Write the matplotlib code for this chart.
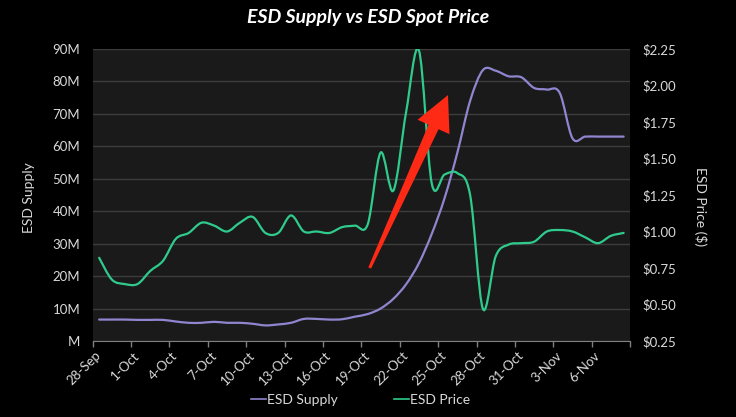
import numpy as np
import matplotlib
matplotlib.use("Agg")
import matplotlib.pyplot as plt
from matplotlib.path import Path
from matplotlib.patches import PathPatch, Polygon
from matplotlib.lines import Line2D
from matplotlib.ticker import FuncFormatter

plt.rcParams['font.family'] = ['Lato', 'DejaVu Sans']

# daily values, 28-Sep .. 8-Nov
days = np.arange(42)
tick_labels = ['28-Sep', '1-Oct', '4-Oct', '7-Oct', '10-Oct', '13-Oct', '16-Oct',
               '19-Oct', '22-Oct', '25-Oct', '28-Oct', '31-Oct', '3-Nov', '6-Nov']

supply_m = [6.6, 6.6, 6.6, 6.5, 6.5, 6.5, 6.0, 5.6, 5.6, 5.9, 5.6, 5.6, 5.3, 4.8,
            5.1, 5.6, 6.8, 6.8, 6.6, 6.7, 7.5, 8.3, 10.0, 13.0, 17.5, 24.0, 33.0,
            44.0, 58.0, 74.0, 83.5, 83.3, 81.6, 81.3, 78.0, 77.5, 76.5, 62.5, 63.0,
            63.0, 63.0, 63.0]

price = [0.82, 0.67, 0.64, 0.64, 0.73, 0.80, 0.95, 0.99, 1.06, 1.04, 1.00, 1.06,
         1.10, 0.99, 0.99, 1.11, 1.00, 1.00, 0.99, 1.03, 1.04, 1.05, 1.54, 1.28,
         1.82, 2.24, 1.33, 1.39, 1.40, 1.25, 0.47, 0.83, 0.91, 0.92, 0.93, 1.00,
         1.01, 1.00, 0.96, 0.92, 0.97, 0.99]

c_supply = '#8f86cf'
c_price = '#2fcb8c'
c_text = '#d9d9d9'


def smooth_path(x, y):
    # excel-like smoothed line (catmull-rom as cubic bezier)
    pts = np.column_stack([x, y]).astype(float)
    verts = [pts[0]]
    codes = [Path.MOVETO]
    n = len(pts)
    for i in range(n - 1):
        p0 = pts[i - 1] if i > 0 else pts[i]
        p1 = pts[i]
        p2 = pts[i + 1]
        p3 = pts[i + 2] if i + 2 < n else pts[i + 1]
        verts += [p1 + (p2 - p0) / 6, p2 - (p3 - p1) / 6, p2]
        codes += [Path.CURVE4] * 3
    return Path(verts, codes)


fig = plt.figure(figsize=(7.36, 4.17), dpi=100, facecolor='black')
ax = fig.add_axes([0.126, 0.1823, 0.730, 0.7002])
ax.set_facecolor('#1a1a1a')
ax2 = ax.twinx()

ax.set_xlim(-0.5, 41.5)
ax.set_ylim(0, 90)
ax2.set_ylim(0.25, 2.25)

ax.add_patch(PathPatch(smooth_path(days, supply_m), facecolor='none',
                       edgecolor=c_supply, lw=1.6, capstyle='round'))
ax2.add_patch(PathPatch(smooth_path(days, price), facecolor='none',
                        edgecolor=c_price, lw=1.6, capstyle='round'))

# axes styling
ax.set_yticks(np.arange(0, 91, 10))
ax.yaxis.set_major_formatter(FuncFormatter(lambda v, p: 'M' if v == 0 else f'{v:.0f}M'))
ax2.set_yticks(np.arange(0.25, 2.26, 0.25))
ax2.yaxis.set_major_formatter(FuncFormatter(lambda v, p: f'${v:.2f}'))
ax.grid(axis='y', color='#3d3d3d', lw=1)
ax.set_axisbelow(True)

ax.set_xticks(np.arange(-0.5, 42, 3))
ax.set_xticklabels([])
ax.set_xticks(days[::3], minor=True)
ax.set_xticklabels(tick_labels, minor=True, rotation=45, ha='right',
                   va='center', rotation_mode='anchor')
ax.tick_params(axis='x', which='major', length=4, color='#7f7f7f', width=1)
ax.tick_params(axis='x', which='minor', length=0, pad=9, labelsize=9.5,
               labelcolor=c_text)
ax.tick_params(axis='y', length=0, pad=9, labelsize=9.5, labelcolor=c_text)
ax2.tick_params(axis='y', length=0, pad=9, labelsize=9.5, labelcolor=c_text)

for a in (ax, ax2):
    for s in ('top', 'left', 'right'):
        a.spines[s].set_visible(False)
    a.spines['bottom'].set_visible(False)
ax.spines['bottom'].set_visible(True)
ax.spines['bottom'].set_color('#7f7f7f')

fig.text(368 / 736, 1 - 18 / 417, 'ESD Supply vs ESD Spot Price', ha='center',
         va='center', color='white', fontsize=14, fontweight='bold',
         fontstyle='italic')
fig.text(29 / 736, 1 - 198 / 417, 'ESD Supply', rotation=90, ha='center',
         va='center', color=c_text, fontsize=10)
fig.text(700 / 736, 1 - 207 / 417, 'ESD Price ($)', rotation=270, ha='center',
         va='center', color=c_text, fontsize=10)

handles = [Line2D([], [], color=c_supply, lw=1.2),
           Line2D([], [], color=c_price, lw=1.2)]
fig.legend(handles, ['ESD Supply', 'ESD Price'], loc='center',
           bbox_to_anchor=(0.49, 1 - 400 / 417), ncol=2, frameon=False,
           handlelength=1.1, handletextpad=0.1, columnspacing=4.0,
           labelcolor=c_text, fontsize=10)

# red arrow annotation
tail = np.array([21.15, 22.5])
tip = np.array([27.27, 75.8])
to_fig = ax.transData + fig.transFigure.inverted()
t_px = ax.transData.transform(tail)
h_px = ax.transData.transform(tip)
u = (h_px - t_px) / np.linalg.norm(h_px - t_px)
nrm = np.array([u[1], -u[0]])
base = h_px - u * 35
pts_px = [t_px + nrm * 1.5, base + nrm * 5.5, base + nrm * 17.5, h_px,
          base - nrm * 17.5, base - nrm * 5.5, t_px - nrm * 1.5]
pts_fig = fig.transFigure.inverted().transform(pts_px)
fig.add_artist(Polygon(pts_fig, closed=True, transform=fig.transFigure,
                       facecolor='#ff2a16', edgecolor='none', zorder=10))

fig.savefig('out.png', dpi=100, facecolor='black')
